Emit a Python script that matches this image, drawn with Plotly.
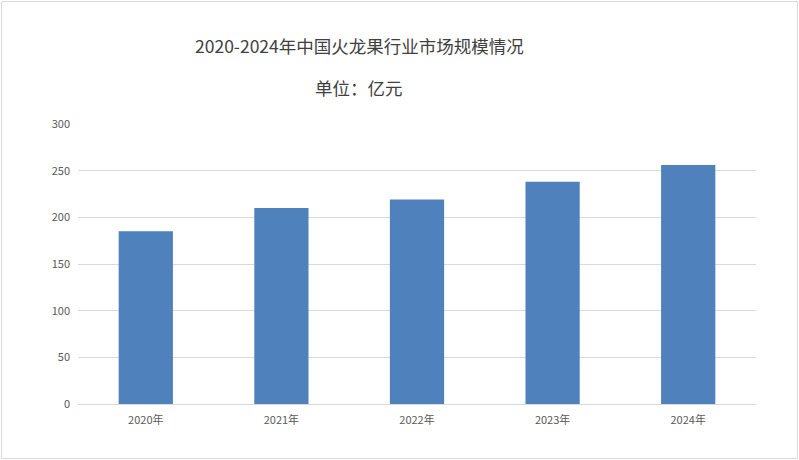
import plotly.graph_objects as go

# 数据
years = ['2020年', '2021年', '2022年', '2023年', '2024年']
market_size = [185, 210, 219, 238, 256]
y_ticks = [0, 50, 100, 150, 200, 250, 300]

W, H = 799, 460
ml, mr, mt, mb = 78, 43, 124, 56
pw, ph = W - ml - mr, H - mt - mb

fig = go.Figure()
fig.add_trace(go.Bar(
    x=years,
    y=market_size,
    marker_color='#4f81bd',
    marker_line_width=0,
))

# 标题和单位
title_x = (359 - ml) / pw
fig.add_annotation(
    text='2020-2024年中国火龙果行业市场规模情况',
    x=title_x, y=1 + (124 - 45) / ph, xref='paper', yref='paper',
    showarrow=False, xanchor='center', yanchor='middle',
    font=dict(size=17.5, color='#404040'),
)
fig.add_annotation(
    text='单位：亿元',
    x=title_x, y=1 + (124 - 87) / ph, xref='paper', yref='paper',
    showarrow=False, xanchor='center', yanchor='middle',
    font=dict(size=17.5, color='#404040'),
)

# 外框
fig.add_shape(
    type='rect', xref='paper', yref='paper',
    x0=-(ml - 1.5) / pw, x1=1 + (mr - 1.5) / pw,
    y0=-(mb - 1.5) / ph, y1=1 + (mt - 1.5) / ph,
    line=dict(color='#d9d9d9', width=1),
)

fig.update_layout(
    width=W, height=H,
    margin=dict(l=ml, r=mr, t=mt, b=mb),
    paper_bgcolor='white',
    plot_bgcolor='white',
    bargap=0.6,
    showlegend=False,
    font=dict(family='Noto Sans CJK SC, Noto Sans, sans-serif', size=11, color='#595959'),
)
fig.update_xaxes(
    showgrid=False,
    showline=True, linecolor='#d9d9d9', linewidth=1,
    ticks='', ticklabelstandoff=6,
    tickfont=dict(size=11, color='#595959'),
)
fig.update_yaxes(
    range=[0, 300],
    tickvals=y_ticks,
    showgrid=True, gridcolor='#d9d9d9', gridwidth=1,
    zeroline=False, showline=False,
    ticks='', ticklabelstandoff=7,
    tickfont=dict(size=11, color='#595959'),
)

fig.write_html('out.html', config={'displayModeBar': False},
               post_script="document.body.style.margin='0';")
